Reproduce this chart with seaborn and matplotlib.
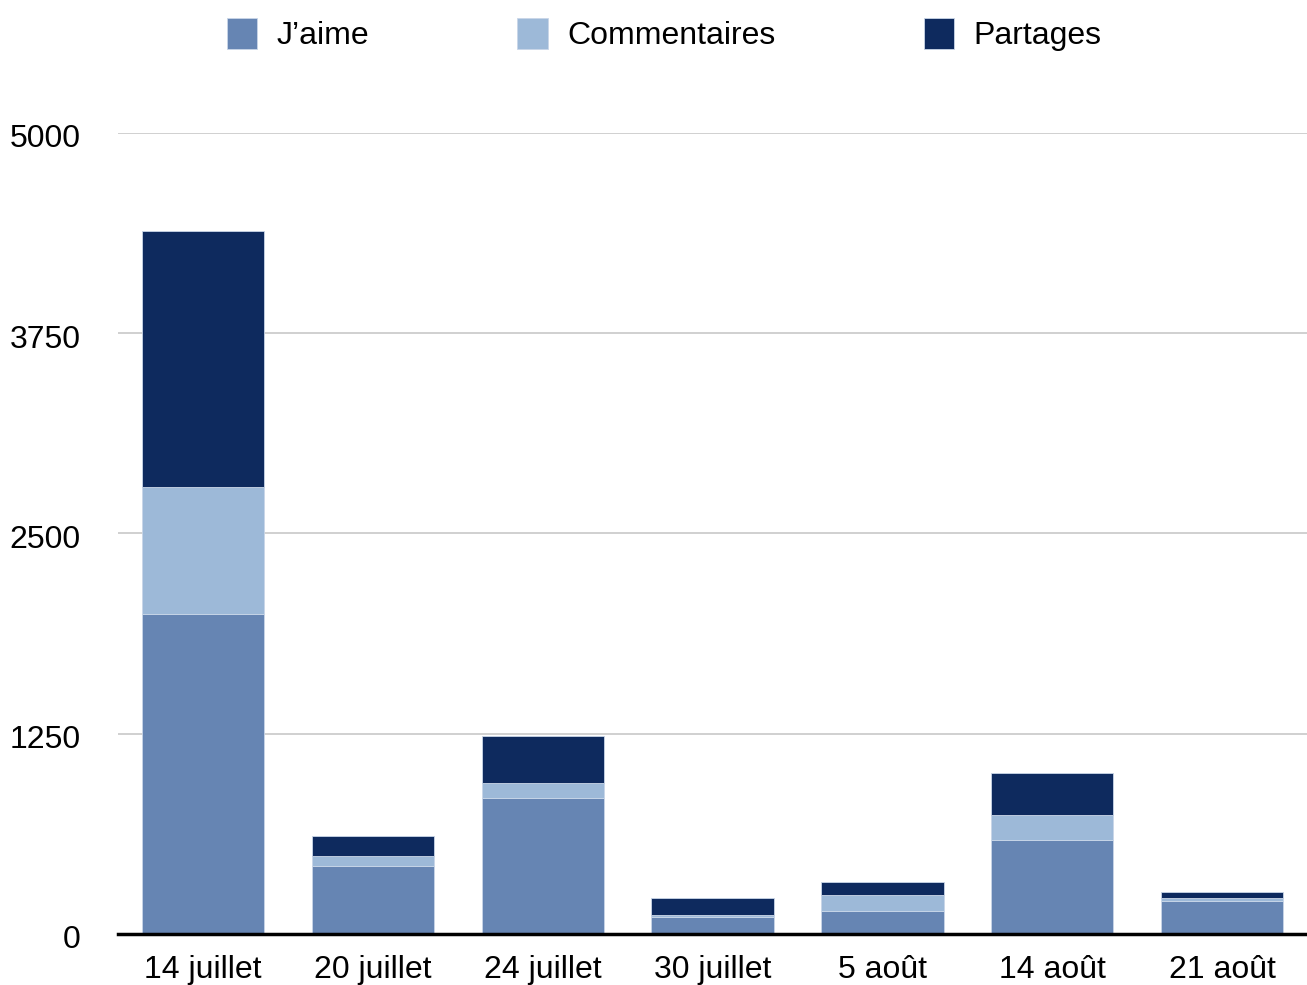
import matplotlib
matplotlib.use("Agg")
import matplotlib.pyplot as plt
import matplotlib.patches as mpatches
import matplotlib.transforms as mtransforms
import seaborn as sns
import numpy as np

# Data
dates = ["14 juillet", "20 juillet", "24 juillet", "30 juillet", "5 août", "14 août", "21 août"]
jaime = [2000, 425, 850, 108, 142, 588, 208]
commentaires = [790, 62, 92, 13, 100, 152, 15]
partages = [1598, 125, 295, 102, 81, 264, 41]

series_names = ["J’aime", "Commentaires", "Partages"]
colors = ["#6685B3", "#9DB9D8", "#0E2A5E"]

sns.set_theme(style="white")
plt.rcParams["font.family"] = ["Liberation Sans", "DejaVu Sans"]
plt.rcParams["text.color"] = "black"
plt.rcParams["xtick.color"] = "black"
plt.rcParams["ytick.color"] = "black"

fig = plt.figure(figsize=(13.07, 9.85), dpi=100)
ax = fig.add_axes([0.0903, 0.0518, 0.9097, 0.8132])

# stacked bars: each series sits on top of the previous ones
bottom = np.zeros(len(dates))
for name, vals, col in zip(series_names, [jaime, commentaires, partages], colors):
    sns.barplot(x=dates, y=vals, bottom=bottom, color=col, saturation=1, width=0.72,
                edgecolor="#C9D6E8", linewidth=0.6, ax=ax, zorder=3)
    bottom = bottom + np.array(vals)

ax.set_ylim(0, 5000)
ax.set_xlim(-0.5, len(dates) - 0.5)
ax.set_yticks([0, 1250, 2500, 3750, 5000])
ax.yaxis.grid(True, color="#C8C8C8", linewidth=1.2, zorder=0)
ax.xaxis.grid(False)
for s in ["top", "right", "left"]:
    ax.spines[s].set_visible(False)
ax.spines["bottom"].set_color("black")
ax.spines["bottom"].set_linewidth(2.5)
ax.spines["bottom"].set_zorder(5)
ax.tick_params(axis="y", length=0, pad=27, labelsize=23, labelcolor="black")
ax.tick_params(axis="x", length=0, pad=15, labelsize=23, labelcolor="black")

# nudge y labels down a little, like the original
offset = mtransforms.ScaledTranslation(0, -3 / 100, fig.dpi_scale_trans)
for lbl in ax.get_yticklabels():
    lbl.set_transform(lbl.get_transform() + offset)
ax.set_xlabel("")
ax.set_ylabel("")

handles = [mpatches.Patch(facecolor=c, edgecolor="#C9D6E8", linewidth=0.6) for c in colors]
fig.legend(handles, series_names, loc="upper center", bbox_to_anchor=(0.508, 1.011),
           ncol=3, frameon=False, fontsize=23, handlelength=0.95, handleheight=1.1,
           handletextpad=0.6, columnspacing=4.65)

fig.savefig("out.png", dpi=100)
